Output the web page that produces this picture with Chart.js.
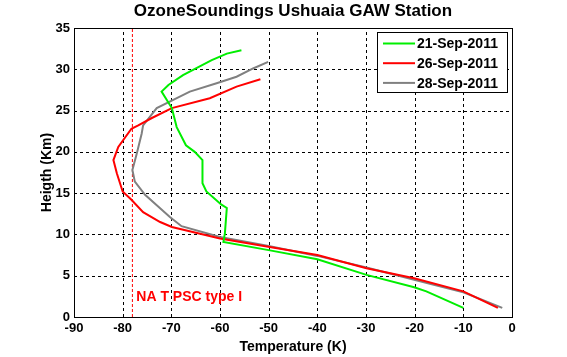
<!DOCTYPE html>
<html><head><meta charset="utf-8">
<script src="https://cdn.jsdelivr.net/npm/chart.js@4/dist/chart.umd.min.js"></script>
<style>html,body{margin:0;padding:0;background:#fff}#w{width:567px;height:357px}</style>
</head><body><div id="w"><canvas id="c" width="567" height="357"></canvas></div>
<script>
const seriesLabels = ['21-Sep-2011', '26-Sep-2011', '28-Sep-2011'];
const seriesColors = ['#00ee00', '#ff0000', '#808080'];
// Temperature (x) and height (y) for each sounding
const t21 = [-10, -17.6, -20.1, -29.9, -40.0, -50.0, -59.3, -59.0, -58.6, -59.7, -62.8, -63.6, -63.6, -63.6, -65.2, -67.0, -68.9, -69.9, -72.0, -70.6, -67.6, -61.7, -58.6, -55.6];
const h21 = [1.1, 3.1, 3.6, 5.1, 7.0, 8.1, 9.1, 10.1, 13.2, 13.6, 15.2, 16.2, 17.8, 19.0, 20.0, 20.8, 23.0, 25.3, 27.3, 28.1, 29.3, 31.1, 31.9, 32.3];
const t26 = [-2.9, -10, -20.1, -29.9, -40.0, -50.1, -60.0, -69.9, -72.3, -75.8, -78.2, -80.0, -81.2, -81.9, -80.9, -78.2, -76.8, -74.0, -69.9, -62.1, -56.6, -51.7];
const h26 = [1.1, 3.1, 4.7, 5.9, 7.5, 8.5, 9.5, 10.9, 11.5, 12.7, 14.2, 15.2, 17.4, 19.0, 20.6, 22.8, 23.2, 24.1, 25.3, 26.5, 27.9, 28.8];
const t28 = [-2.0, -10, -20.1, -29.9, -40.0, -50.0, -60.0, -67.9, -70.3, -75.4, -77.5, -78.0, -77.1, -76.1, -75.8, -73.0, -69.6, -66.2, -60.7, -56.6, -53.2, -50.1];
const h28 = [1.1, 3.0, 4.5, 6.0, 7.4, 8.6, 9.7, 11.0, 12.1, 14.8, 16.4, 17.8, 19.8, 22.2, 23.2, 25.3, 26.3, 27.3, 28.3, 29.1, 30.1, 30.9];
const natT = -78;               // NAT PSC type I threshold
const natLabel = 'NA T PSC type I';
const xTicks = [-90, -80, -70, -60, -50, -40, -30, -20, -10, 0];
const yTicks = [0, 5, 10, 15, 20, 25, 30, 35];
const titleText = 'OzoneSoundings Ushuaia GAW Station';
const xTitle = 'Temperature (K)';
const yTitle = 'Heigth (Km)';

const pts = (t, h) => t.map((v, i) => ({x: v, y: h[i]}));
const FONT = '"Liberation Sans", Arial, sans-serif';

const gridPlugin = {
  id: 'gridPlugin',
  beforeDatasetsDraw(chart) {
    const {ctx, chartArea: a, scales: {x, y}} = chart;
    ctx.save();
    ctx.strokeStyle = '#000'; ctx.lineWidth = 1; ctx.setLineDash([3, 3]);
    xTicks.forEach(v => {
      const px = Math.round(x.getPixelForValue(v)) + 0.5;
      ctx.beginPath(); ctx.moveTo(px, a.bottom); ctx.lineTo(px, a.top); ctx.stroke();
    });
    yTicks.forEach(v => {
      const py = Math.round(y.getPixelForValue(v)) + 0.5;
      ctx.beginPath(); ctx.moveTo(a.left, py); ctx.lineTo(a.right, py); ctx.stroke();
    });
    ctx.restore();
  }
};

const overlay = {
  id: 'overlay',
  afterDraw(chart) {
    const {ctx, chartArea: a, scales: {x, y}} = chart;
    ctx.save();
    // border
    ctx.strokeStyle = '#000'; ctx.lineWidth = 1; ctx.setLineDash([]);
    ctx.strokeRect(Math.round(a.left) + 0.5, Math.round(a.top) + 0.5, Math.round(a.right - a.left), Math.round(a.bottom - a.top));
    // title
    ctx.fillStyle = '#000';
    ctx.font = 'bold 17px ' + FONT;
    ctx.textAlign = 'center'; ctx.textBaseline = 'middle';
    ctx.fillText(titleText, (a.left + a.right) / 2, 11);
    // axis titles
    ctx.font = 'bold 14px ' + FONT;
    ctx.fillText(xTitle, (a.left + a.right) / 2, 347);
    ctx.save();
    ctx.translate(47, (a.top + a.bottom) / 2);
    ctx.rotate(-Math.PI / 2);
    ctx.fillText(yTitle, 0, 0);
    ctx.restore();
    // NAT label
    ctx.fillStyle = '#ff0000';
    ctx.font = 'bold 14px ' + FONT;
    ctx.textAlign = 'left';
    ctx.fillText(natLabel, x.getPixelForValue(-77.2), y.getPixelForValue(2.45));
    // legend
    const lx = 377, ly = 32, lw = 130, lh = 60;
    ctx.fillStyle = '#fff';
    ctx.fillRect(lx, ly, lw, lh);
    ctx.strokeStyle = '#000'; ctx.lineWidth = 1;
    ctx.strokeRect(lx + 0.5, ly + 0.5, lw, lh);
    ctx.font = 'bold 14px ' + FONT;
    seriesLabels.forEach((lab, i) => {
      const yy = ly + 11.5 + i * 19.7;
      ctx.strokeStyle = seriesColors[i]; ctx.lineWidth = 2;
      ctx.beginPath(); ctx.moveTo(lx + 6, yy); ctx.lineTo(lx + 38, yy); ctx.stroke();
      ctx.fillStyle = '#000';
      ctx.fillText(lab, lx + 40, yy + 1);
    });
    ctx.restore();
  }
};

new Chart(document.getElementById('c'), {
  type: 'scatter',
  data: {
    datasets: [
      {label: seriesLabels[0], data: pts(t21, h21), showLine: true, borderColor: seriesColors[0], borderWidth: 2, pointRadius: 0, tension: 0},
      {label: seriesLabels[1], data: pts(t26, h26), showLine: true, borderColor: seriesColors[1], borderWidth: 2, pointRadius: 0, tension: 0},
      {label: seriesLabels[2], data: pts(t28, h28), showLine: true, borderColor: seriesColors[2], borderWidth: 2, pointRadius: 0, tension: 0},
      {label: 'NAT', data: [{x: natT, y: 0}, {x: natT, y: 35}], showLine: true, borderColor: '#ff0000', borderWidth: 1, borderDash: [3, 2], pointRadius: 0}
    ]
  },
  options: {
    responsive: false, animation: false, devicePixelRatio: 1,
    layout: {padding: {top: 28, right: 55, left: 0, bottom: 0}},
    plugins: {legend: {display: false}, tooltip: {enabled: false}, title: {display: false}},
    scales: {
      x: {
        type: 'linear', min: -90, max: 0,
        afterBuildTicks: s => { s.ticks = xTicks.map(v => ({value: v})); },
        afterFit: s => { s.height = 40; },
        grid: {display: false, drawTicks: false},
        border: {display: false},
        ticks: {color: '#000', font: {family: FONT, size: 13, weight: 'bold'}, padding: 4, maxRotation: 0},
        title: {display: false}
      },
      y: {
        type: 'linear', min: 0, max: 35,
        afterBuildTicks: s => { s.ticks = yTicks.map(v => ({value: v})); },
        afterFit: s => { s.width = 74; },
        grid: {display: false, drawTicks: false},
        border: {display: false},
        ticks: {color: '#000', font: {family: FONT, size: 13, weight: 'bold'}, padding: 4},
        title: {display: false}
      }
    }
  },
  plugins: [gridPlugin, overlay]
});
</script>
</body></html>
